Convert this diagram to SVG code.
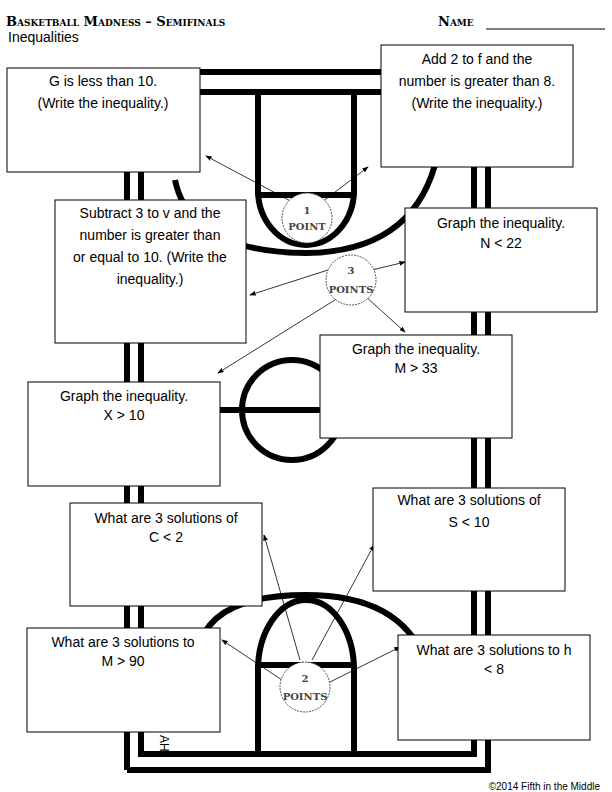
<svg xmlns="http://www.w3.org/2000/svg" width="612" height="792" viewBox="0 0 612 792">
<style>
.c{fill:none;stroke:#000;stroke-width:6}
.b{fill:#fff;stroke:#000;stroke-width:1}
.t{font-family:"Liberation Sans",Arial,sans-serif;font-size:14px;text-anchor:middle;fill:#000}
.a{stroke:#000;stroke-width:0.8;fill:none;marker-end:url(#ah)}
.ball{fill:#fff;stroke:#555;stroke-width:1;stroke-dasharray:2 1}
.bt{font-family:"DejaVu Serif",serif;font-weight:bold;font-size:10px;text-anchor:middle;fill:#444}
</style>
<defs><marker id="ah" markerWidth="8" markerHeight="6" refX="7" refY="3" orient="auto"><path d="M0,0L8,3L0,6z" fill="#000"/></marker></defs>
<g id="court">
<path class="c" d="M127,770V72H400"/>
<path class="c" d="M488,120V770H127"/>
<path class="c" d="M141,200V92H390"/>
<path class="c" d="M474,120V754H141V172"/>
<path class="c" d="M258,92V195M354,92V195M258,195H354M258,190A48,55 0 0 0 354,190"/>
<path class="c" d="M175,180Q190,252 306,253Q410,252 435,165"/>
<path class="c" d="M141,410H474"/>
<circle class="c" cx="292" cy="410" r="50"/>
<path class="c" d="M258,754V665M354,754V665M258,665H354M258,670A48,70 0 0 1 354,670"/>
<path class="c" d="M198,650Q210,595 306,595Q400,595 425,660"/>
<text x="160" y="735" transform="rotate(90 160 735)" font-family="Liberation Sans,sans-serif" font-size="12">AH</text>
</g>
<g id="title">
<text x="6" y="26" font-family="DejaVu Serif,serif" font-weight="bold" font-size="13" font-variant="small-caps">Basketball Madness – Semifinals</text>
<text x="438" y="26" font-family="DejaVu Serif,serif" font-weight="bold" font-size="13" font-variant="small-caps">Name</text>
<line x1="486" y1="29" x2="605" y2="29" stroke="#000" stroke-width="1"/>
<text x="8" y="42" font-family="Liberation Sans,sans-serif" font-size="14">Inequalities</text>
<text x="600" y="790" font-family="Liberation Sans,sans-serif" font-size="10" text-anchor="end">©2014 Fifth in the Middle</text>
</g>
<g id="connectors">
<path class="a" d="M298,205L206,156"/>
<path class="a" d="M318,205L368,167"/>
<path class="a" d="M328,270L250,295"/>
<path class="a" d="M372,270L405,262"/>
<path class="a" d="M338,298L218,373"/>
<path class="a" d="M365,296L405,332"/>
<path class="a" d="M300,660L264,535"/>
<path class="a" d="M312,660L374,545"/>
<path class="a" d="M282,680L222,640"/>
<path class="a" d="M330,682L400,647"/>
</g>
<g id="balls">
<g id="ball1"><circle class="ball" cx="307" cy="218" r="25"/><text class="bt" x="307" y="214">1</text><text class="bt" x="307" y="230">POINT</text></g>
<g id="ball3"><circle class="ball" cx="351" cy="280" r="25"/><text class="bt" x="351" y="274">3</text><text class="bt" x="351" y="293">POINTS</text></g>
<g id="ball2"><circle class="ball" cx="305" cy="687" r="25"/><text class="bt" x="305" y="682">2</text><text class="bt" x="305" y="700">POINTS</text></g>
</g>
<g id="n1"><rect class="b" x="7" y="68" width="193" height="104"/><text class="t" x="103" y="86">G is less than 10.</text><text class="t" x="103" y="108">(Write the inequality.)</text></g>
<g id="n2"><rect class="b" x="381" y="45" width="192" height="122"/><text class="t" x="477" y="64">Add 2 to f and the</text><text class="t" x="477" y="86">number is greater than 8.</text><text class="t" x="477" y="108">(Write the inequality.)</text></g>
<g id="n3"><rect class="b" x="55" y="200" width="191" height="143"/><text class="t" x="150" y="218">Subtract 3 to v and the</text><text class="t" x="150" y="240">number is greater than</text><text class="t" x="150" y="262">or equal to 10. (Write the</text><text class="t" x="150" y="284">inequality.)</text></g>
<g id="n4"><rect class="b" x="405" y="208" width="192" height="104"/><text class="t" x="501" y="228">Graph the inequality.</text><text class="t" x="501" y="248">N &lt; 22</text></g>
<g id="n5"><rect class="b" x="320" y="335" width="192" height="103"/><text class="t" x="416" y="354">Graph the inequality.</text><text class="t" x="416" y="373">M &gt; 33</text></g>
<g id="n6"><rect class="b" x="28" y="382" width="192" height="104"/><text class="t" x="124" y="401">Graph the inequality.</text><text class="t" x="124" y="420">X &gt; 10</text></g>
<g id="n7"><rect class="b" x="373" y="488" width="192" height="103"/><text class="t" x="469" y="505">What are 3 solutions of</text><text class="t" x="469" y="527">S &lt; 10</text></g>
<g id="n8"><rect class="b" x="70" y="503" width="192" height="103"/><text class="t" x="166" y="523">What are 3 solutions of</text><text class="t" x="166" y="542">C &lt; 2</text></g>
<g id="n9"><rect class="b" x="27" y="628" width="193" height="104"/><text class="t" x="123" y="647">What are 3 solutions to</text><text class="t" x="123" y="666">M &gt; 90</text></g>
<g id="n10"><rect class="b" x="398" y="635" width="192" height="105"/><text class="t" x="494" y="655">What are 3 solutions to h</text><text class="t" x="494" y="674">&lt; 8</text></g>
</svg>
